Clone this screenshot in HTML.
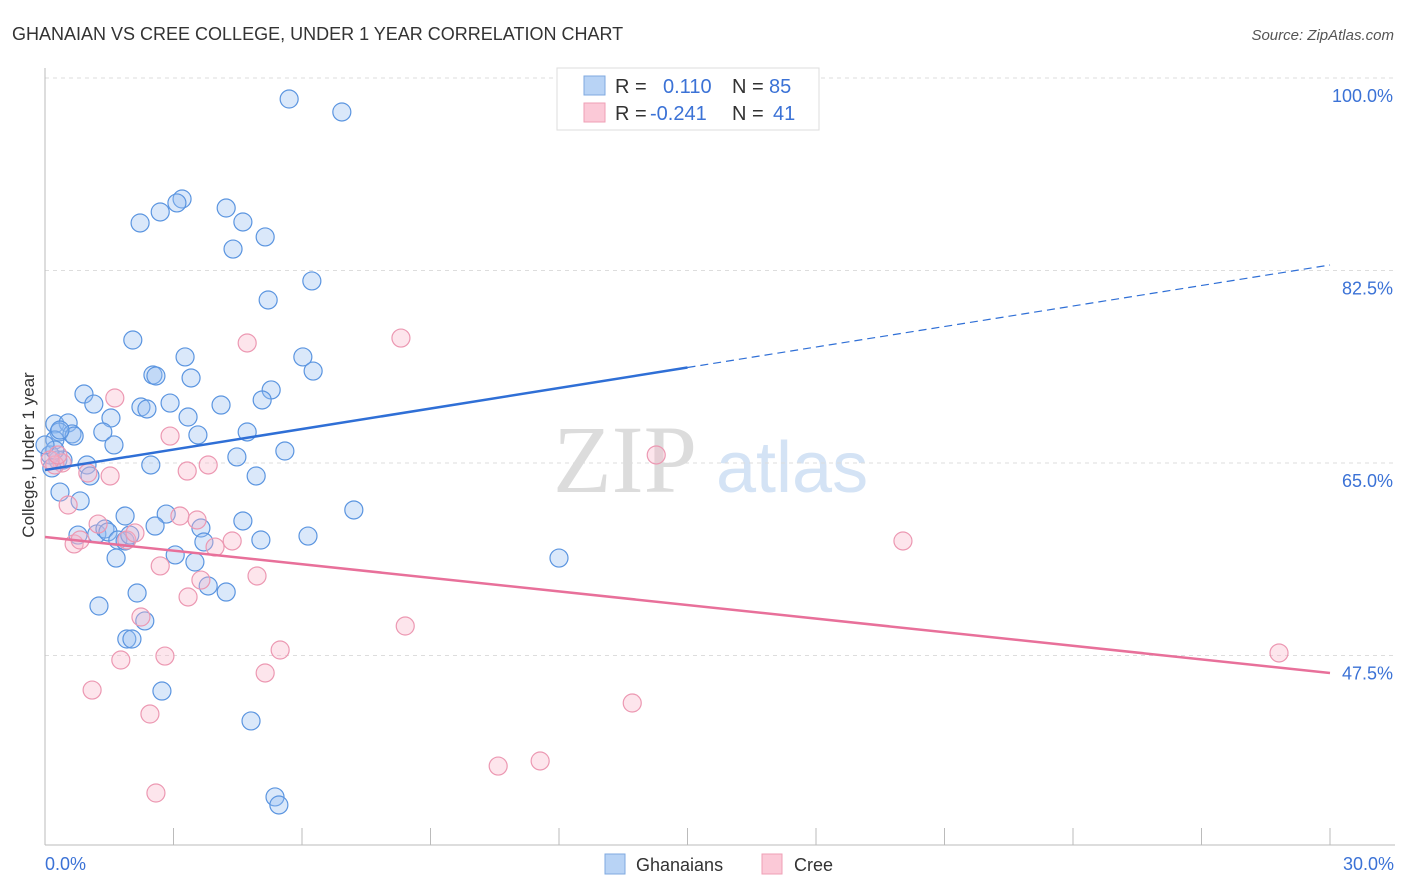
<!DOCTYPE html>
<html><head><meta charset="utf-8"><style>
body{margin:0;background:#fff;font-family:"Liberation Sans",sans-serif;}
svg{display:block}
</style></head><body>
<svg id="chart" width="1406" height="892" xmlns="http://www.w3.org/2000/svg">
<text x="12" y="40" font-size="18" fill="#333">GHANAIAN VS CREE COLLEGE, UNDER 1 YEAR CORRELATION CHART</text>
<text x="1394" y="40" font-size="15" fill="#555" font-style="italic" text-anchor="end">Source: ZipAtlas.com</text>
<g>
<text x="553" y="492" font-size="96" font-family="Liberation Serif,serif" fill="#dcdcdc">ZIP</text>
<text x="716" y="492" font-size="72" fill="#d4e3f5">atlas</text>
</g>
<g id="grid"></g>
<g id="axes"></g>
<g id="pts"></g>
<g id="trend"></g>
<text x="270" y="0" transform="translate(34,455) rotate(-90)" font-size="17" fill="#333" text-anchor="middle"><tspan x="0">College, Under 1 year</tspan></text>
<g>
<rect x="557" y="68" width="262" height="62" fill="#fff" stroke="#ddd"/>
<rect x="584" y="76" width="21" height="19" fill="#b8d3f5" stroke="#7fa9e0"/>
<rect x="584" y="103" width="21" height="19" fill="#fbc9d7" stroke="#ef9fb6"/>
<text x="615" y="93" font-size="20" fill="#333">R =</text>
<text x="663" y="93" font-size="20" fill="#3b72d6">0.110</text>
<text x="732" y="93" font-size="20" fill="#333">N =</text>
<text x="769" y="93" font-size="20" fill="#3b72d6">85</text>
<text x="615" y="120" font-size="20" fill="#333">R =</text>
<text x="650" y="120" font-size="20" fill="#3b72d6">-0.241</text>
<text x="732" y="120" font-size="20" fill="#333">N =</text>
<text x="773" y="120" font-size="20" fill="#3b72d6">41</text>
</g>
<g>
<rect x="605" y="854" width="20" height="20" fill="#b8d3f5" stroke="#7fa9e0"/>
<text x="636" y="871" font-size="18" fill="#333">Ghanaians</text>
<rect x="762" y="854" width="20" height="20" fill="#fbc9d7" stroke="#ef9fb6"/>
<text x="794" y="871" font-size="18" fill="#333">Cree</text>
</g>
</svg>
<script>
const yTicks=[47.5,65.0,82.5,100.0];
const yTickLabels=["47.5%","65.0%","82.5%","100.0%"];
const xTickLabels=["0.0%","30.0%"];
const blueX=[5.70,6.93,3.20,3.08,2.69,2.22,4.23,4.62,5.14,4.39,6.23,5.21,2.05,3.27,6.02,6.26,2.52,2.59,3.41,5.28,0.91,5.07,1.14,2.92,2.24,2.38,4.11,3.34,1.54,0.23,0.54,0.33,4.72,1.35,0.63,0.68,3.57,1.61,5.60,4.48,0.30,0.42,2.47,0.98,1.05,4.93,0.35,0.82,7.21,1.87,2.83,4.62,2.57,0.77,1.21,1.40,3.64,1.47,1.70,1.87,1.98,5.04,6.14,3.71,1.66,3.04,3.50,12.0,2.15,3.81,4.23,1.26,2.33,1.91,2.03,2.73,4.81,5.37,5.46,0.23,0.12,0.23,0.35,0.0,0.16];
const blueY=[98.09,96.91,89.0,88.64,87.82,86.82,88.18,86.91,85.55,84.45,81.55,79.82,76.18,74.64,74.64,73.36,73.0,72.91,72.73,71.64,71.27,70.73,70.36,70.45,70.09,69.91,70.27,69.18,69.09,68.55,68.64,67.82,67.82,67.82,67.64,67.45,67.55,66.64,66.09,65.55,65.27,65.27,64.82,64.82,63.82,63.82,62.36,61.55,60.73,60.18,60.36,59.73,59.27,58.45,58.55,59.0,59.09,58.73,58.0,57.91,58.45,58.0,58.36,57.82,56.36,56.64,56.0,56.36,53.18,53.82,53.27,52.0,50.64,49.0,49.0,44.27,41.55,34.64,33.91,67.09,65.73,66.18,68.0,66.64,64.55];
const pinkX=[4.72,8.31,1.63,2.92,0.40,0.23,3.32,3.81,1.00,1.52,14.27,0.54,1.24,3.15,3.55,0.68,0.82,1.91,2.10,4.37,3.97,20.03,2.69,3.64,4.95,3.34,2.24,8.41,2.80,5.49,1.77,28.81,1.10,5.14,2.45,13.71,10.58,11.56,2.59,0.12,0.30];
const pinkY=[75.91,76.36,70.91,67.45,65.0,64.82,64.27,64.82,64.09,63.82,65.73,61.18,59.45,60.18,59.82,57.64,58.0,58.0,58.64,57.91,57.36,57.91,55.64,54.36,54.73,52.82,51.0,50.18,47.45,48.0,47.09,47.73,44.36,45.91,42.18,43.18,37.45,37.91,35.0,65.27,65.73];
const blueTrend=[64.36,83.0];
const pinkTrend=[58.27,45.91];
const blueSolidEnd=15.0;

const NS="http://www.w3.org/2000/svg";
const X0=45,X1=1330,Y65=463,PXY=11.0;
function sx(v){return X0+(X1-X0)*v/30;}
function sy(v){return Y65-(v-65)*PXY;}
function mk(tag,attrs,parent){const e=document.createElementNS(NS,tag);for(const k in attrs)e.setAttribute(k,attrs[k]);parent.appendChild(e);return e;}
const grid=document.getElementById('grid'),axes=document.getElementById('axes'),pts=document.getElementById('pts'),trend=document.getElementById('trend');
yTicks.forEach((t,i)=>{
  const l=mk('line',{x1:45,x2:1395,y1:sy(t),y2:sy(t),stroke:'#ddd','stroke-dasharray':'4,4'},grid);
  
  
  const tx=mk('text',{x:1393,y:sy(t)+24,'font-size':18,fill:'#3b72d6','text-anchor':'end'},axes);
  tx.textContent=yTickLabels[i];
  
  
});
mk('line',{x1:45,x2:45,y1:68,y2:845,stroke:'#bbb'},axes);
mk('line',{x1:45,x2:1395,y1:845,y2:845,stroke:'#bbb'},axes);
for(let i=0;i<=10;i++){
  const t=mk('line',{x1:sx(i*3),x2:sx(i*3),y1:828,y2:845,stroke:'#bbb'},axes);
  
  
}
[[0,'start',45],[30,'end',1394]].forEach((d,i)=>{
  const tx=mk('text',{x:d[2],y:870,'font-size':18,fill:'#3b72d6','text-anchor':d[1]},axes);
  tx.textContent=xTickLabels[i];
  
  
});
blueX.forEach((x,i)=>{
  const c=mk('circle',{cx:sx(x),cy:sy(blueY[i]),r:9,fill:'rgba(150,190,240,0.35)',stroke:'#5b95e0','stroke-width':1.2},pts);
  
  
});
pinkX.forEach((x,i)=>{
  const c=mk('circle',{cx:sx(x),cy:sy(pinkY[i]),r:9,fill:'rgba(248,180,200,0.35)',stroke:'#ec98b2','stroke-width':1.2},pts);
  
  
});
function ty(tr,x){return tr[0]+(tr[1]-tr[0])*x/30;}
const b1=mk('line',{x1:sx(0),y1:sy(blueTrend[0]),x2:sx(blueSolidEnd),y2:sy(ty(blueTrend,blueSolidEnd)),stroke:'#2f6fd6','stroke-width':2.5},trend);


const b2=mk('line',{x1:sx(blueSolidEnd),y1:sy(ty(blueTrend,blueSolidEnd)),x2:sx(30),y2:sy(blueTrend[1]),stroke:'#2f6fd6','stroke-width':1.2,'stroke-dasharray':'8,5'},trend);


const p1=mk('line',{x1:sx(0),y1:sy(pinkTrend[0]),x2:sx(30),y2:sy(pinkTrend[1]),stroke:'#e8709a','stroke-width':2.5},trend);


</script>
</body></html>
